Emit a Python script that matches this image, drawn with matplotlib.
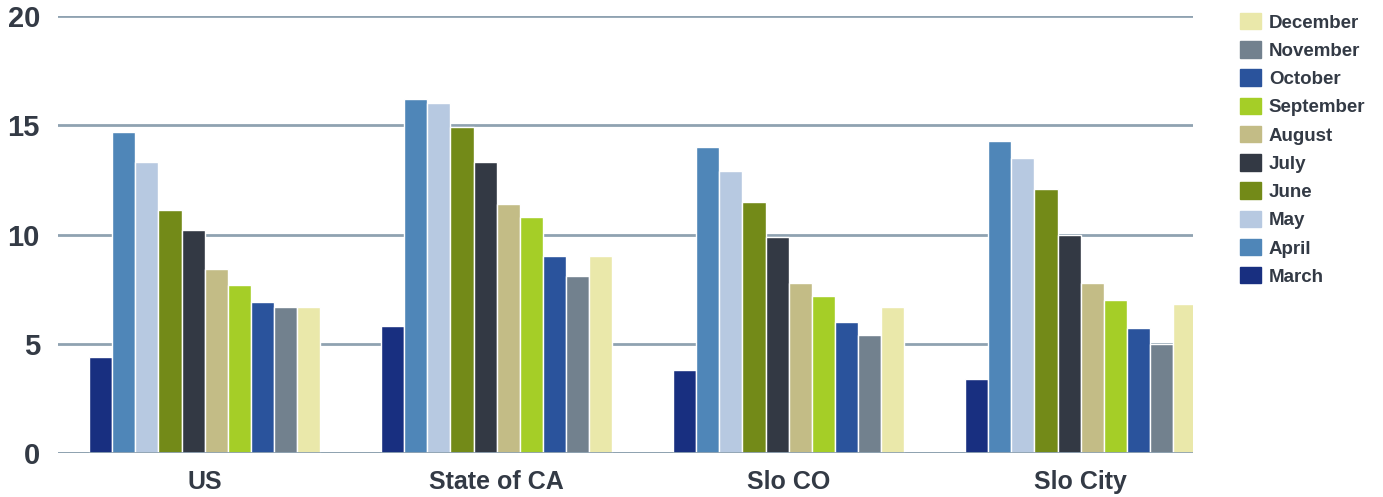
import numpy as np
import matplotlib
matplotlib.use('Agg')
import matplotlib.pyplot as plt
import matplotlib.patches as mpatches

plt.rcParams['font.family'] = ['Liberation Sans', 'DejaVu Sans']
plt.rcParams['font.weight'] = 'bold'

regions = ['US', 'State of CA', 'Slo CO', 'Slo City']
months = ['March', 'April', 'May', 'June', 'July', 'August',
          'September', 'October', 'November', 'December']

march = [4.4, 5.8, 3.8, 3.4]
april = [14.7, 16.2, 14.0, 14.3]
may = [13.3, 16.0, 12.9, 13.5]
june = [11.1, 14.9, 11.5, 12.1]
july = [10.2, 13.3, 9.9, 10.0]
august = [8.4, 11.4, 7.8, 7.8]
september = [7.7, 10.8, 7.2, 7.0]
october = [6.9, 9.0, 6.0, 5.7]
november = [6.7, 8.1, 5.4, 5.0]
december = [6.7, 9.0, 6.7, 6.8]

series = [march, april, may, june, july, august,
          september, october, november, december]
colors = ['#182f80', '#4f86b8', '#b7c9e1', '#738a18', '#333944',
          '#c3bc86', '#a5ce27', '#2a539c', '#72818e', '#eae8aa']

text_color = '#333a45'
grid_color = '#8fa2b1'

fig = plt.figure(figsize=(13.83, 4.97), dpi=100)
ax = fig.add_axes([58 / 1383, 1 - 453 / 497, (1193 - 58) / 1383, (453 - 16) / 497])

x = np.arange(len(regions))
group_w = 0.79
w = group_w / len(series)
for i, (vals, c) in enumerate(zip(series, colors)):
    offs = -group_w / 2 + w * (i + 0.5)
    ax.bar(x + offs, vals, width=w, color=c, edgecolor='white',
           linewidth=1, zorder=3, label=months[i])

ax.set_xlim(-0.502, 3.385)
ax.set_ylim(0, 20)
ax.set_yticks([0, 5, 10, 15, 20])
ax.set_xticks(x)
ax.set_xticklabels(regions)
ax.yaxis.grid(True, color=grid_color, linewidth=2, zorder=0)
ax.set_axisbelow(True)
for s in ax.spines.values():
    s.set_visible(False)
ax.axhline(0, color=grid_color, linewidth=2, zorder=4)
ax.tick_params(axis='both', length=0, colors=text_color)
ax.tick_params(axis='y', labelsize=21, pad=13)
ax.tick_params(axis='x', labelsize=18, pad=12)

# legend lists the months last-to-first, top to bottom
handles = [mpatches.Patch(color=c, label=m) for m, c in zip(months, colors)][::-1]
leg = fig.legend(handles=handles, loc='upper left',
                 bbox_to_anchor=(1240 / 1383, 1 - 13 / 497),
                 frameon=False, fontsize=13.5, borderpad=0, borderaxespad=0,
                 handlelength=1.12, handleheight=0.96, labelspacing=0.515,
                 handletextpad=0.42)
for t in leg.get_texts():
    t.set_color(text_color)

fig.savefig('out.png', dpi=100)
